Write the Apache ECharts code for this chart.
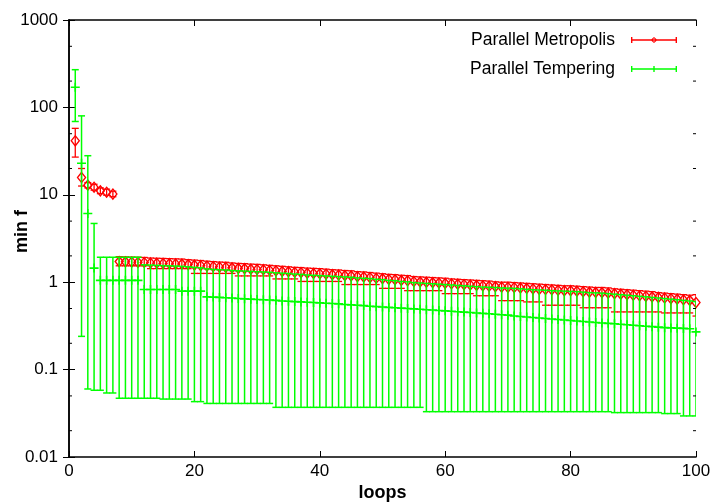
<!DOCTYPE html>
<html><head><meta charset="utf-8">
<script src="https://cdn.jsdelivr.net/npm/echarts@6/dist/echarts.min.js"></script>
<style>html,body{margin:0;padding:0;background:#fff}#c{width:713px;height:504px}</style>
</head><body><div id="c"></div>
<script>
const loops = [1,2,3,4,5,6,7,8,9,10,11,12,13,14,15,16,17,18,19,20,21,22,23,24,25,26,27,28,29,30,31,32,33,34,35,36,37,38,39,40,41,42,43,44,45,46,47,48,49,50,51,52,53,54,55,56,57,58,59,60,61,62,63,64,65,66,67,68,69,70,71,72,73,74,75,76,77,78,79,80,81,82,83,84,85,86,87,88,89,90,91,92,93,94,95,96,97,98,99,100];

const pmValue = [41.5,15.8,12.9,12.2,11.1,10.7,10.2,1.72,1.71,1.70,1.69,1.68,1.66,1.65,1.64,1.63,1.62,1.61,1.59,1.57,1.55,1.53,1.51,1.49,1.48,1.46,1.44,1.43,1.41,1.40,1.39,1.37,1.35,1.33,1.32,1.30,1.29,1.27,1.26,1.25,1.24,1.22,1.21,1.19,1.18,1.16,1.15,1.13,1.11,1.10,1.08,1.07,1.05,1.04,1.02,1.01,1.00,0.99,0.98,0.97,0.96,0.95,0.94,0.93,0.92,0.91,0.90,0.89,0.88,0.875,0.87,0.86,0.85,0.84,0.83,0.825,0.82,0.81,0.80,0.80,0.79,0.78,0.77,0.765,0.76,0.75,0.74,0.73,0.72,0.71,0.70,0.69,0.68,0.67,0.66,0.65,0.64,0.63,0.62,0.585];
const pmHigh = [57.6,20,13.8,13.2,12.0,11.6,11.0,1.96,1.95,1.94,1.93,1.92,1.89,1.88,1.87,1.86,1.85,1.84,1.81,1.79,1.77,1.74,1.72,1.70,1.69,1.66,1.64,1.63,1.61,1.60,1.58,1.56,1.54,1.52,1.50,1.48,1.47,1.45,1.44,1.43,1.41,1.39,1.38,1.36,1.35,1.32,1.31,1.29,1.27,1.25,1.23,1.22,1.20,1.19,1.16,1.15,1.14,1.13,1.12,1.11,1.09,1.08,1.07,1.06,1.05,1.04,1.03,1.01,1.00,1.00,0.99,0.98,0.97,0.96,0.95,0.94,0.93,0.92,0.91,0.91,0.90,0.89,0.88,0.87,0.87,0.86,0.84,0.83,0.82,0.81,0.80,0.79,0.78,0.76,0.75,0.74,0.73,0.72,0.71,0.72];
const pmLow = [27,12.6,12.0,11.3,10.3,9.9,9.5,1.54,1.54,1.54,1.54,1.54,1.43,1.43,1.43,1.43,1.43,1.43,1.43,1.26,1.26,1.26,1.26,1.26,1.26,1.26,1.18,1.18,1.18,1.18,1.18,1.18,1.09,1.09,1.09,1.09,1.02,1.02,1.02,1.02,1.02,1.02,1.02,0.94,0.94,0.94,0.94,0.94,0.94,0.85,0.85,0.85,0.85,0.80,0.80,0.80,0.80,0.80,0.80,0.74,0.74,0.74,0.74,0.74,0.70,0.70,0.70,0.70,0.615,0.615,0.615,0.615,0.595,0.595,0.595,0.545,0.545,0.545,0.545,0.545,0.545,0.51,0.51,0.51,0.51,0.51,0.457,0.457,0.457,0.457,0.457,0.457,0.457,0.457,0.445,0.445,0.445,0.445,0.445,0.41];

const ptValue = [170,23,6.1,1.45,1.05,1.05,1.05,1.05,1.05,1.05,1.05,0.825,0.825,0.825,0.825,0.825,0.825,0.79,0.79,0.79,0.79,0.68,0.675,0.67,0.665,0.66,0.65,0.645,0.64,0.635,0.63,0.625,0.62,0.61,0.605,0.60,0.595,0.59,0.585,0.58,0.575,0.57,0.565,0.555,0.55,0.545,0.54,0.53,0.525,0.52,0.515,0.51,0.505,0.50,0.495,0.49,0.485,0.48,0.475,0.47,0.465,0.46,0.455,0.45,0.445,0.44,0.435,0.43,0.425,0.42,0.41,0.405,0.40,0.395,0.39,0.385,0.38,0.375,0.37,0.365,0.36,0.355,0.35,0.346,0.342,0.338,0.334,0.33,0.326,0.322,0.318,0.314,0.31,0.306,0.302,0.30,0.298,0.296,0.294,0.27];
const ptHigh = [270,80,28,4.7,1.93,1.93,1.93,1.93,1.93,1.93,1.93,1.58,1.57,1.56,1.55,1.54,1.53,1.52,1.50,1.48,1.46,1.42,1.40,1.39,1.38,1.36,1.35,1.34,1.33,1.32,1.31,1.30,1.28,1.27,1.26,1.24,1.23,1.21,1.20,1.19,1.18,1.17,1.16,1.15,1.14,1.12,1.11,1.10,1.08,1.07,1.05,1.04,1.02,1.01,0.99,0.98,0.97,0.96,0.95,0.94,0.93,0.92,0.91,0.90,0.89,0.88,0.875,0.87,0.86,0.855,0.85,0.84,0.83,0.82,0.815,0.81,0.80,0.795,0.79,0.785,0.78,0.77,0.76,0.755,0.75,0.74,0.73,0.72,0.71,0.70,0.69,0.68,0.67,0.66,0.65,0.64,0.63,0.62,0.61,0.60];
const ptLow = [69,0.24,0.06,0.058,0.058,0.054,0.054,0.047,0.047,0.047,0.047,0.047,0.047,0.047,0.046,0.046,0.046,0.046,0.046,0.043,0.043,0.041,0.041,0.041,0.041,0.041,0.041,0.041,0.041,0.041,0.041,0.041,0.037,0.037,0.037,0.037,0.037,0.037,0.037,0.037,0.037,0.037,0.037,0.037,0.037,0.037,0.037,0.037,0.037,0.037,0.037,0.037,0.037,0.037,0.037,0.037,0.033,0.033,0.033,0.033,0.033,0.033,0.033,0.033,0.033,0.033,0.033,0.033,0.033,0.033,0.033,0.033,0.033,0.033,0.033,0.033,0.033,0.033,0.033,0.033,0.033,0.033,0.033,0.033,0.033,0.033,0.0322,0.0322,0.0322,0.0322,0.0322,0.0322,0.0322,0.0322,0.0314,0.0314,0.0314,0.0295,0.0295,0.0295];

const yMinorTicks = [0.02,0.05,0.2,0.5,2,5,20,50,200,500];
const yLabels = ['0.01','0.1','1','10','100','1000'];
const seriesNames = ['Parallel Metropolis','Parallel Tempering'];

const RED = '#ff0000', GREEN = '#00ff00';
const FONT = 'Liberation Sans, Arial, Helvetica, sans-serif';

function errRender(color, capHalf, lw) {
  return function (params, api) {
    const x = api.value(0), lo = api.value(1), hi = api.value(2);
    const a = api.coord([x, lo]), b = api.coord([x, hi]);
    const st = { stroke: color, lineWidth: lw, fill: null };
    return { type: 'group', children: [
      { type: 'line', shape: { x1: a[0], y1: a[1], x2: b[0], y2: b[1] }, style: st },
      { type: 'line', shape: { x1: a[0] - capHalf, y1: a[1], x2: a[0] + capHalf, y2: a[1] }, style: st },
      { type: 'line', shape: { x1: b[0] - capHalf, y1: b[1], x2: b[0] + capHalf, y2: b[1] }, style: st }
    ]};
  };
}

function minorRender(params, api) {
  const cs = params.coordSys;
  const p = api.coord([0, api.value(0)]);
  const st = { stroke: '#000', lineWidth: 1, fill: null };
  return { type: 'group', children: [
    { type: 'line', shape: { x1: cs.x, y1: p[1], x2: cs.x + 3, y2: p[1] }, style: st },
    { type: 'line', shape: { x1: cs.x + cs.width - 3, y1: p[1], x2: cs.x + cs.width, y2: p[1] }, style: st }
  ]};
}

const redIcon = 'path://M0,2.3h46v1.4h-46z M0,0h1.4v6h-1.4z M44.6,0h1.4v6h-1.4z M23,0L26.5,3L23,6L19.5,3z M23,1.3L21.1,3L23,4.7L24.9,3z';
const greenIcon = 'path://M0,2.3h46v1.4h-46z M0,0h1.4v6h-1.4z M44.6,0h1.4v6h-1.4z M22.3,0h1.4v6h-1.4z';
const plusSym = 'path://M0,3.3h8v1.4h-8z M3.3,0h1.4v8h-1.4z';

const chart = echarts.init(document.getElementById('c'), null, { renderer: 'canvas' });

const axisLine = { show: true, lineStyle: { color: '#000', width: 1.5 } };
const tick = { show: true, inside: true, length: 6, lineStyle: { color: '#000', width: 1 } };

chart.setOption({
  animation: false,
  backgroundColor: '#fff',
  grid: { left: 69, right: 17, top: 20, bottom: 47, containLabel: false, outerBoundsMode: 'none' },
  legend: {
    orient: 'vertical', right: 31, top: 26, align: 'right',
    itemWidth: 46, itemHeight: 6, itemGap: 11, selectedMode: false,
    textStyle: { fontSize: 17.5, color: '#000', fontFamily: FONT, padding: [0, 11, 0, 0] },
    data: [
      { name: seriesNames[0], icon: redIcon, itemStyle: { color: RED, borderWidth: 0 } },
      { name: seriesNames[1], icon: greenIcon, itemStyle: { color: GREEN, borderWidth: 0 } }
    ]
  },
  xAxis: [
    { type: 'value', position: 'bottom', min: 0, max: 100, interval: 20,
      axisLine, axisTick: tick, splitLine: { show: false },
      axisLabel: { color: '#000', fontSize: 17, fontFamily: FONT, margin: 6 },
      name: 'loops', nameLocation: 'middle', nameGap: 27, nameMoveOverlap: false,
      nameTextStyle: { color: '#000', fontSize: 18, fontWeight: 'bold', fontFamily: FONT } },
    { type: 'value', position: 'top', min: 0, max: 100, interval: 20,
      axisLine, axisTick: tick, splitLine: { show: false }, axisLabel: { show: false } }
  ],
  yAxis: [
    { type: 'log', logBase: 10, position: 'left', min: 0.01, max: 1000,
      axisLine, axisTick: tick, splitLine: { show: false }, minorTick: { show: false },
      axisLabel: { color: '#000', fontSize: 17, fontFamily: FONT, margin: 11,
        formatter: function (v) { const s = Number(Number(v).toPrecision(3)); const i = Math.round(Math.log10(s)) + 2; return yLabels[i] !== undefined ? yLabels[i] : String(s); } },
      name: 'min f', nameLocation: 'middle', nameGap: 38, nameMoveOverlap: false,
      nameTextStyle: { color: '#000', fontSize: 18, fontWeight: 'bold', fontFamily: FONT, padding: [0, 0, 0, 14] } },
    { type: 'log', logBase: 10, position: 'right', min: 0.01, max: 1000,
      axisLine, axisTick: tick, splitLine: { show: false }, axisLabel: { show: false } }
  ],
  series: [
    { type: 'custom', name: 'yminor', renderItem: minorRender, silent: true,
      data: yMinorTicks.map(v => [v]), encode: { y: 0 }, xAxisIndex: 0, yAxisIndex: 0, clip: false, z: 5 },
    { type: 'custom', name: 'pmErr', renderItem: errRender(RED, 3.5, 1.3), silent: true, clip: true,
      data: loops.map((x, i) => [x, pmLow[i], pmHigh[i]]), encode: { x: 0, y: [1, 2] }, z: 2 },
    { type: 'scatter', name: seriesNames[0], symbol: 'diamond', symbolSize: [8, 10], silent: true,
      data: loops.map((x, i) => [x, pmValue[i]]),
      itemStyle: { color: 'rgba(0,0,0,0)', borderColor: RED, borderWidth: 1.4, opacity: 1 }, z: 3 },
    { type: 'custom', name: 'ptErr', renderItem: errRender(GREEN, 3.5, 1.5), silent: true, clip: true,
      data: loops.map((x, i) => [x, ptLow[i], ptHigh[i]]), encode: { x: 0, y: [1, 2] }, z: 4 },
    { type: 'scatter', name: seriesNames[1], symbol: plusSym, symbolSize: 9, silent: true,
      data: loops.map((x, i) => [x, ptValue[i]]),
      itemStyle: { color: GREEN, opacity: 1 }, z: 4 }
  ]
});
</script>
</body></html>
